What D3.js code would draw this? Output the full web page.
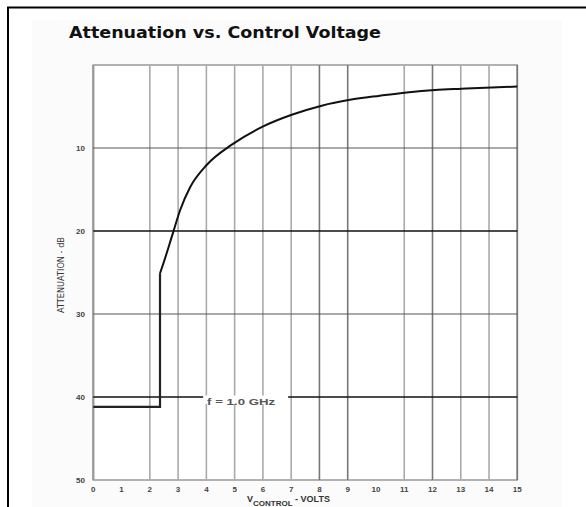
<!DOCTYPE html>
<html><head><meta charset="utf-8">
<script src="https://cdn.jsdelivr.net/npm/d3@7"></script>
<style>body{margin:0;background:#fff}svg{display:block}</style>
</head><body>
<script>
const title = "Attenuation vs. Control Voltage";
const xTicks = [0,1,2,3,4,5,6,7,8,9,10,11,12,13,14,15];
const xGrid = [2,3,4,5,6,7,8,9,11,12,13,14,15];
const yTicks = [10,20,30,40,50];
const yGrid = [10,20,30,40];
const stepV = [0, 2.36, 2.36];
const stepDb = [41.2, 41.2, 25.1];
const curveV = [2.36, 2.48, 2.83, 3.07, 3.43, 4.01, 4.90, 6.01, 7.02, 8.08, 9.08, 10.14, 11.09, 12.09, 13.03, 14.09, 15.0];
const curveDb = [25.1, 23.9, 20.1, 17.5, 14.7, 12.05, 9.6, 7.4, 6.0, 4.9, 4.2, 3.7, 3.3, 3.0, 2.85, 2.7, 2.6];
const seriesLabel = "f = 1.0 GHz";
const labelAt = [5.23, 40];

const W = 586, H = 507;
const svg = d3.select("body").append("svg").attr("width", W).attr("height", H);
svg.append("rect").attr("x",0).attr("y",0).attr("width",W).attr("height",H).attr("fill","#fff");
svg.append("rect").attr("x",32).attr("y",20).attr("width",530).attr("height",H-20).attr("fill","#fbfbfb");
// frame
svg.append("line").attr("x1",7).attr("x2",W).attr("y1",7.5).attr("y2",7.5).attr("stroke","#000").attr("stroke-width",2);
svg.append("line").attr("x1",8).attr("x2",8).attr("y1",7).attr("y2",H).attr("stroke","#000").attr("stroke-width",2);

const x = d3.scaleLinear().domain([0,15]).range([93.3,517.3]);
const y = d3.scaleLinear().domain([0,50]).range([65,480]);

// plot area
svg.append("rect").attr("x",x(0)).attr("y",y(0)).attr("width",x(15)-x(0)).attr("height",y(50)-y(0))
  .attr("fill","#fff").attr("stroke","#999").attr("stroke-width",1.5);

// vertical grid
const darkV = new Set([8,9,12,15]);
svg.append("g").selectAll("line").data(xGrid).join("line")
  .attr("x1",d=>x(d)).attr("x2",d=>x(d)).attr("y1",y(0)).attr("y2",y(50))
  .attr("stroke",d=>darkV.has(d)?"#777":"#aaa").attr("stroke-width",1.6);
svg.append("line").attr("x1",x(0)).attr("x2",x(0)).attr("y1",y(0)).attr("y2",y(50)).attr("stroke","#999").attr("stroke-width",2.2);

const lx = x(labelAt[0]), ly = y(labelAt[1]);
// label background (small gaps in grid)
svg.append("rect").attr("x",lx-36).attr("y",ly+1).attr("width",80).attr("height",6).attr("fill","#fff");

// horizontal grid
svg.append("g").selectAll("line").data(yGrid).join("line")
  .attr("x1",x(0)).attr("x2",x(15)).attr("y1",d=>y(d)).attr("y2",d=>y(d))
  .attr("stroke",d=>d%20===0?"#111":"#555").attr("stroke-width",d=>d%20===0?1.3:1);
// break the 40 line for label
svg.append("rect").attr("x",lx-38).attr("y",ly-1.5).attr("width",85).attr("height",3).attr("fill","#fff");

svg.append("text").attr("x",lx).attr("y",ly+7.5)
  .attr("text-anchor","middle").attr("font-family","Liberation Sans, Arial, sans-serif")
  .attr("font-size",9).attr("font-weight","bold").attr("fill","#555")
  .attr("textLength",68).attr("lengthAdjust","spacingAndGlyphs").text(seriesLabel);

// curve
const stepPts = stepV.map((v,i)=>[v,stepDb[i]]);
const curvePts = curveV.map((v,i)=>[v,curveDb[i]]);
svg.append("path").attr("d", d3.line().x(d=>x(d[0])).y(d=>y(d[1]))(stepPts))
  .attr("fill","none").attr("stroke","#222").attr("stroke-width",2.2);
svg.append("path").attr("d", d3.line().x(d=>x(d[0])).y(d=>y(d[1])).curve(d3.curveMonotoneX)(curvePts))
  .attr("fill","none").attr("stroke","#111").attr("stroke-width",2);

// tick labels
svg.append("g").selectAll("text").data(yTicks).join("text")
  .attr("x",85).attr("y",d=>y(d)+3).attr("text-anchor","end")
  .attr("font-family","Liberation Sans, Arial, sans-serif").attr("font-size",8).attr("font-weight","bold")
  .attr("fill","#444").text(d=>d);
svg.append("g").selectAll("text").data(xTicks).join("text")
  .attr("x",d=>x(d)).attr("y",492).attr("text-anchor","middle")
  .attr("font-family","Liberation Sans, Arial, sans-serif").attr("font-size",8).attr("font-weight","bold")
  .attr("fill","#444").text(d=>d);

// axis titles
const xl = svg.append("text").attr("x",247).attr("y",502)
  .attr("font-family","Liberation Sans, Arial, sans-serif").attr("font-size",9).attr("font-weight","bold").attr("fill","#333");
xl.append("tspan").text("V");
xl.append("tspan").attr("dy",4).attr("font-size",8).text("CONTROL");
xl.append("tspan").attr("dy",-4).text(" - VOLTS");

svg.append("text").attr("transform","translate(64,275) rotate(-90)").attr("text-anchor","middle")
  .attr("font-family","Liberation Sans Narrow, DejaVu Sans Condensed, sans-serif").attr("font-size",8)
  .attr("fill","#333").attr("textLength",76).attr("lengthAdjust","spacingAndGlyphs").text("ATTENUATION - dB");

// title
svg.append("text").attr("x",69).attr("y",38)
  .attr("font-family","DejaVu Sans, Verdana, sans-serif").attr("font-size",15).attr("font-weight","bold")
  .attr("fill","#111").attr("textLength",312).attr("lengthAdjust","spacingAndGlyphs").text(title);
</script>
</body></html>
